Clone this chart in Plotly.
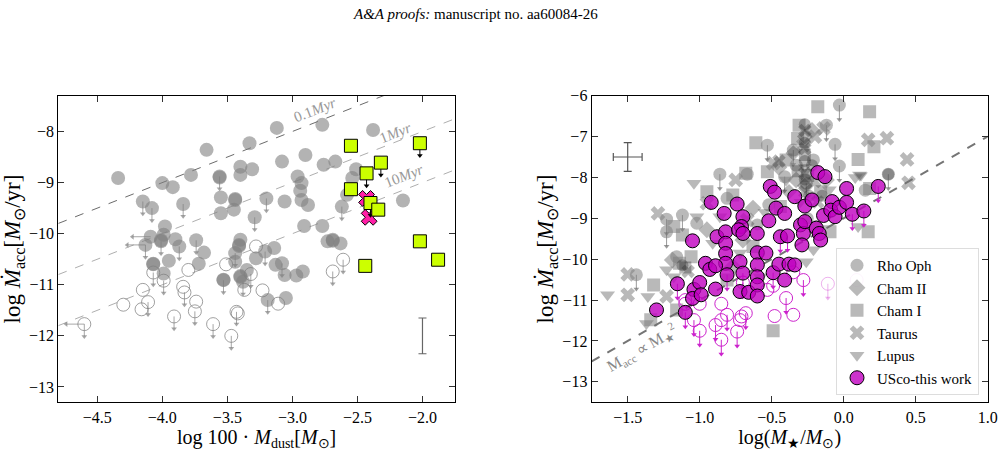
import plotly.graph_objects as go

# ---------------- LEFT PANEL DATA ----------------
# filled gray circles: x, y, upper-limit flag
lf_x = [-4.34,-3.66,-4.00,-3.92,-4.15,-4.08,-3.78,-3.84,-3.56,-3.56,-3.55,-3.55,-3.44,-3.44,-3.45,-3.40,-3.33,-3.31,-3.40,-3.29,
        -3.12,-3.08,-2.90,-2.96,-2.93,-2.94,-2.93,-2.88,-3.06,-3.20,-2.77,-2.76,-2.67,-2.51,-2.54,-2.58,-2.62,-2.38,-2.15,-2.91,
        -2.77,-2.73,-2.69,-2.69,-2.63,-3.98,-4.09,-4.01,-4.01,-3.99,-4.13,-3.90,-3.87,-3.74,-3.68,-3.95,-4.07,-4.07,-3.99,-3.72,
        -3.44,-3.44,-3.41,-3.41,-3.40,-3.53,-3.53,-3.40,-3.40,-3.35,-3.28,-3.21,-3.14,-3.13,-3.08,-3.06,-2.97,-2.92,-3.05,-3.19,-3.38]
lf_y = [-8.91,-8.36,-9.01,-9.09,-9.37,-9.50,-8.85,-9.42,-8.88,-8.90,-9.29,-9.60,-9.32,-9.34,-9.53,-8.69,-8.23,-8.74,-8.85,-9.68,
        -7.93,-8.59,-8.46,-8.88,-9.01,-9.16,-9.34,-9.44,-9.37,-9.31,-7.87,-8.65,-8.59,-8.74,-8.91,-9.24,-9.47,-7.97,-9.35,-9.85,
        -9.85,-10.15,-10.14,-10.12,-10.19,-9.86,-10.06,-10.15,-10.13,-10.02,-10.22,-10.11,-10.25,-10.13,-10.37,-10.53,-10.59,-10.60,-10.78,-10.59,
        -10.38,-10.55,-10.22,-10.24,-10.12,-10.91,-10.90,-10.83,-10.85,-10.71,-10.48,-10.35,-10.28,-10.61,-10.58,-10.81,-10.82,-10.74,-11.26,-11.30,-10.94]
lf_lim = [0,0,0,0,1,1,0,1,1,0,0,0,0,0,0,0,0,0,0,1,
          0,0,0,0,0,0,0,0,0,1,0,0,0,0,0,0,1,0,0,0,
          0,0,0,0,0,0,0,1,0,0,1,0,1,1,0,0,0,0,0,0,
          1,0,0,0,0,1,0,0,0,0,0,1,0,0,1,0,0,0,0,1,1]
# left-pointing limits (upper limits on dust mass)
ll_x = [-4.09,-4.13,-4.60]
ll_y = [-10.06,-10.22,-11.77]

# open gray circles (accretion upper limits)
lo_x = [-4.60,-4.30,-4.16,-4.15,-4.11,-4.07,-3.99,-3.84,-3.83,-3.80,-3.91,-3.74,-3.75,-3.61,-3.47,-3.51,-3.43,-3.42,-3.37,-3.32,-3.28,-3.23,-3.11,-2.69,-2.61]
lo_y = [-11.77,-11.39,-11.48,-11.10,-11.34,-10.76,-10.92,-11.04,-11.15,-10.71,-11.62,-11.33,-11.52,-11.77,-12.00,-10.60,-11.53,-11.56,-11.10,-10.79,-10.25,-11.11,-11.37,-10.74,-10.51]
lo_lim = [1,0,0,0,1,1,1,0,1,0,1,0,1,1,1,0,1,0,0,1,0,0,0,1,1]

# green squares (this work)
gs_x = [-2.55,-2.02,-2.32,-2.43,-2.55,-2.40,-2.34,-2.02,-1.88,-2.44]
gs_y = [-8.28,-8.23,-8.61,-8.82,-9.13,-9.40,-9.53,-10.15,-10.51,-10.63]
gs_lim = [0,1,1,1,0,1,0,0,0,0]

# magenta crosses
mx_x = [-2.43,-2.41]
mx_y = [-9.31,-9.68]

# isochrone labels (log t)
age_logt = [5, 6, 7]
age_labels = ["0.1<i>Myr</i>", "1<i>Myr</i>", "10<i>Myr</i>"]
age_lab_x = [-2.83, -2.21, -2.14]
age_lab_y = [-7.58, -8.03, -8.88]

# ---------------- RIGHT PANEL DATA ----------------
rho_x = [-0.03,-0.53,-0.06,-0.86,-0.67,-0.03,0.31,-1.12,-1.23,-1.23,-1.44,-0.21,-0.81,-0.52,-0.19,-0.33,-0.12,-0.35,0.15,-0.41,-1.02,-1.16,-0.26]
rho_y = [-6.23,-7.21,-7.19,-7.92,-7.92,-7.72,-7.92,-8.92,-9.02,-9.33,-10.38,-7.57,-8.51,-8.67,-9.20,-7.70,-6.72,-7.33,-8.31,-7.98,-9.12,-9.94,-8.14]
rho_lim = [1,1,1,1,0,1,1,1,1,1,1,0,0,0,0,0,1,1,0,1,0,0,1]

cham2_x = [-0.63,-1.19,-0.33,-0.12,-0.95,-0.70,-0.77,-0.22,-0.45]
cham2_y = [-8.75,-10.02,-8.06,-8.06,-9.28,-9.53,-10.18,-6.85,-7.75]

cham1_x = [-0.18,0.18,-0.31,-0.61,0.21,0.10,-0.40,-0.68,-0.95,-1.12,-1.32,-0.49,0.17,-1.16,-1.34,-0.53,-0.77,-0.095,-0.81,-1.18,-0.16,-0.44,-1.14,-1.06,0.18,-0.63,-0.32,-0.25]
cham1_y = [-6.27,-6.39,-6.72,-7.15,-7.25,-7.56,-7.57,-7.90,-8.35,-9.41,-10.63,-11.75,-9.33,-11.24,-11.48,-7.86,-8.43,-9.33,-10.51,-9.20,-8.35,-8.71,-10.10,-9.94,-8.27,-9.69,-7.05,-7.95]

tau_x = [-1.50,-1.50,-1.29,0.30,0.44,0.45,0.17,-0.14,-0.75,-0.95,-1.23,-0.28,-0.49,-0.67,-0.20]
tau_y = [-10.37,-10.87,-8.88,-7.04,-7.56,-8.13,-7.08,-6.80,-8.06,-8.63,-10.91,-7.21,-7.65,-9.04,-7.00]

lup_x = [-1.64,-1.04,-1.36,-1.02,0.10,-0.26,0.11,0.08,-1.23,-1.18,-0.72,-0.86,-0.21,-0.40,-1.37,-0.58,-0.91,-0.10]
lup_y = [-10.87,-8.14,-10.91,-8.96,-9.20,-10.06,-7.94,-8.00,-10.26,-10.43,-9.85,-8.96,-9.77,-8.06,-11.57,-10.43,-9.61,-8.30]

# dense dark overlapping group
dk_x = [-0.27,-0.27,-0.27,-0.27,-0.27,-0.27,-0.27,-0.27,-0.27,-0.27,-0.27,-0.27,-0.22,-0.32,-0.20,-0.35,-0.24,-0.30,-0.18,-0.25,
        -1.10,-1.08,-1.12,-0.15,0.12,0.31,-0.45,-0.55,-0.38,-0.60]
dk_y = [-6.70,-6.85,-7.00,-7.15,-7.30,-7.45,-7.60,-7.75,-7.90,-8.05,-8.20,-8.35,-7.70,-7.85,-8.10,-7.40,-8.45,-8.60,-8.60,-9.00,
        -10.20,-10.30,-10.15,-8.45,-7.95,-7.92,-7.60,-8.85,-8.35,-9.15]
dk_sym = ["circle","x","diamond","circle","x","square","circle","triangle-down","x","circle","diamond","x","circle","square","x","diamond","circle","triangle-down","x","circle",
          "square","x","circle","circle","triangle-down","circle","x","triangle-down","diamond","circle"]

# USco this work: filled magenta
us_x = [-1.30,-1.155,-1.10,-1.04,-1.05,-1.00,-0.99,-1.05,-0.96,-0.92,-0.93,-0.88,-0.89,-0.83,-0.82,-0.82,-0.82,-0.82,-0.81,-0.89,
        -0.74,-0.70,-0.71,-0.73,-0.70,-0.72,-0.70,-0.72,-0.66,-0.60,-0.60,-0.60,-0.60,-0.60,-0.60,-0.54,-0.52,-0.51,-0.48,-0.49,
        -0.47,-0.45,-0.44,-0.41,-0.41,-0.39,-0.38,-0.34,-0.34,-0.30,-0.27,-0.28,-0.27,-0.29,-0.22,-0.19,-0.17,-0.18,-0.13,-0.16,
        -0.14,-0.08,-0.09,-0.06,-0.03,0.02,0.02,0.06,0.14,0.24]
us_y = [-11.24,-10.60,-11.30,-10.74,-10.96,-10.57,-10.87,-9.55,-10.10,-8.61,-10.25,-9.45,-10.73,-8.88,-9.33,-9.61,-9.86,-10.10,-10.38,-10.16,
        -8.65,-8.96,-9.20,-9.28,-9.37,-10.06,-10.34,-10.79,-10.81,-9.37,-9.84,-10.14,-10.43,-10.63,-10.90,-9.85,-9.06,-8.22,-8.36,-10.33,
        -8.75,-10.12,-9.45,-8.88,-10.51,-9.43,-10.12,-10.14,-8.47,-9.16,-8.70,-9.37,-9.08,-9.65,-8.55,-9.24,-9.37,-7.88,-7.98,-9.53,
        -8.93,-8.59,-8.80,-8.96,-8.73,-8.27,-8.61,-8.90,-8.82,-8.22]
us_lim = [0,1,1,0,0,0,0,0,0,0,0,0,0,0,0,0,0,0,1,0,
          0,0,0,0,0,0,1,0,0,0,0,0,0,0,0,0,0,0,0,1,
          0,0,1,0,0,1,0,0,0,0,0,0,0,0,0,0,0,0,0,0,
          0,0,0,0,0,0,0,1,1,1]

# USco upper limits (open)
uo_x = [-1.10,-1.10,-1.04,-1.00,-1.00,-0.89,-0.85,-0.85,-0.85,-0.81,-0.74,-0.72,-0.71,-0.68,-0.70,-0.53,-0.49,-0.48,-0.40,-0.35,-0.28,-0.35]
uo_y = [-11.00,-11.09,-11.49,-11.09,-11.75,-11.61,-11.09,-11.49,-11.97,-11.36,-11.77,-11.49,-11.40,-11.32,-10.57,-10.75,-10.65,-11.39,-10.95,-11.36,-10.51,-10.32]
uo_lim = [0,0,1,0,1,1,0,0,1,1,1,0,0,1,1,0,0,0,1,0,1,0]
uf_x = [-0.11, 0.09]
uf_y = [-10.60, -10.51]
uf_lim = [1, 0]

legend_names = ["Rho Oph", "Cham II", "Cham I", "Taurus", "Lupus", "USco-this work"]

FONT = "Liberation Serif"
GRAY = "rgba(128,128,128,0.6)"


def arrows(xs, ys, flags, L, horizontal=False):
    lx, ly, hx, hy = [], [], [], []
    for x, y, f in zip(xs, ys, flags):
        if not f:
            continue
        if horizontal:
            lx += [x, x - L, None]; ly += [y, y, None]
            hx.append(x - L); hy.append(y)
        else:
            lx += [x, x, None]; ly += [y, y - L, None]
            hx.append(x); hy.append(y - L)
    return lx, ly, hx, hy


fig = go.Figure()


def add_arrows(xs, ys, flags, L, color, xa, ya, width=1, head=5, horizontal=False):
    lx, ly, hx, hy = arrows(xs, ys, flags, L, horizontal)
    fig.add_trace(go.Scatter(x=lx, y=ly, mode="lines", line=dict(color=color, width=width),
                             xaxis=xa, yaxis=ya, showlegend=False, hoverinfo="skip"))
    fig.add_trace(go.Scatter(x=hx, y=hy, mode="markers",
                             marker=dict(symbol="triangle-left" if horizontal else "triangle-down",
                                         size=head, color=color, line=dict(width=0)),
                             xaxis=xa, yaxis=ya, showlegend=False, hoverinfo="skip"))

# ---- left panel ----
xl = [-4.8, -1.75]
line_cols = ["rgba(90,90,90,0.9)", "rgba(165,165,165,0.9)", "rgba(165,165,165,0.9)"]
for lt, c in zip(age_logt, line_cols):
    fig.add_trace(go.Scatter(x=xl, y=[v - lt for v in xl], mode="lines",
                             line=dict(color=c, width=1, dash="dash"),
                             xaxis="x", yaxis="y", showlegend=False, hoverinfo="skip"))

add_arrows(lf_x, lf_y, lf_lim, 0.24, "rgba(128,128,128,0.7)", "x", "y")
add_arrows(ll_x, ll_y, [1, 1, 1], 0.14, "rgba(128,128,128,0.7)", "x", "y", horizontal=True)
add_arrows(lo_x, lo_y, lo_lim, 0.24, "rgba(128,128,128,0.7)", "x", "y")
fig.add_trace(go.Scatter(x=lf_x, y=lf_y, mode="markers",
                         marker=dict(symbol="circle", size=14, color=GRAY, line=dict(width=0)),
                         xaxis="x", yaxis="y", showlegend=False))
fig.add_trace(go.Scatter(x=lo_x, y=lo_y, mode="markers",
                         marker=dict(symbol="circle-open", size=13, color="rgba(128,128,128,0.75)", line=dict(width=1)),
                         xaxis="x", yaxis="y", showlegend=False))
# error bar
fig.add_trace(go.Scatter(x=[-2.0], y=[-12.0], mode="markers", marker=dict(size=1, color="rgba(0,0,0,0)"),
                         error_y=dict(type="constant", value=0.35, color="#666", thickness=1.2, width=4),
                         xaxis="x", yaxis="y", showlegend=False))
fig.add_trace(go.Scatter(x=mx_x, y=mx_y, mode="markers",
                         marker=dict(symbol="x", size=14, color="#ff1fa6", line=dict(width=1, color="black")),
                         xaxis="x", yaxis="y", showlegend=False))
add_arrows(gs_x, gs_y, gs_lim, 0.24, "black", "x", "y")
fig.add_trace(go.Scatter(x=gs_x, y=gs_y, mode="markers",
                         marker=dict(symbol="square", size=13, color="#ccff00", line=dict(width=1, color="black")),
                         xaxis="x", yaxis="y", showlegend=False))

# ---- right panel ----
add_arrows(rho_x, rho_y, rho_lim, 0.35, "rgba(110,110,110,0.7)", "x2", "y2")
cats = [(rho_x, rho_y, "circle", legend_names[0]),
        (cham2_x, cham2_y, "diamond", legend_names[1]),
        (cham1_x, cham1_y, "square", legend_names[2]),
        (tau_x, tau_y, "x", legend_names[3]),
        (lup_x, lup_y, "triangle-down", legend_names[4])]
for cx, cy, sym, nm in cats:
    fig.add_trace(go.Scatter(x=cx, y=cy, mode="markers", name=nm,
                             marker=dict(symbol=sym, size=13, color="rgba(128,128,128,0.55)", line=dict(width=0)),
                             xaxis="x2", yaxis="y2", showlegend=True))
fig.add_trace(go.Scatter(x=dk_x, y=dk_y, mode="markers",
                         marker=dict(symbol=dk_sym, size=12, color="rgba(40,40,40,0.33)", line=dict(width=0)),
                         xaxis="x2", yaxis="y2", showlegend=False))
# error cross
fig.add_trace(go.Scatter(x=[-1.5], y=[-7.5], mode="markers", marker=dict(size=1, color="rgba(0,0,0,0)"),
                         error_y=dict(type="constant", value=0.35, color="#555", thickness=1.2, width=4),
                         error_x=dict(type="constant", value=0.1, color="#555", thickness=1.2, width=4),
                         xaxis="x2", yaxis="y2", showlegend=False))
# Macc ~ M^2 line
xr = [-1.75, 1.0]
fig.add_trace(go.Scatter(x=xr, y=[2 * v - 9.0 for v in xr], mode="lines",
                         line=dict(color="rgba(110,110,110,0.95)", width=2, dash="dash"),
                         xaxis="x2", yaxis="y2", showlegend=False, hoverinfo="skip"))
add_arrows(uo_x, uo_y, uo_lim, 0.35, "#cc22cc", "x2", "y2")
add_arrows(uf_x, uf_y, uf_lim, 0.35, "rgba(204,34,204,0.35)", "x2", "y2")
fig.add_trace(go.Scatter(x=uo_x, y=uo_y, mode="markers",
                         marker=dict(symbol="circle-open", size=13, color="#cc22cc", line=dict(width=1)),
                         xaxis="x2", yaxis="y2", showlegend=False))
fig.add_trace(go.Scatter(x=uf_x, y=uf_y, mode="markers",
                         marker=dict(symbol="circle-open", size=13, color="rgba(204,34,204,0.35)", line=dict(width=1)),
                         xaxis="x2", yaxis="y2", showlegend=False))
add_arrows(us_x, us_y, us_lim, 0.35, "#cc22cc", "x2", "y2")
fig.add_trace(go.Scatter(x=us_x, y=us_y, mode="markers", name=legend_names[5],
                         marker=dict(symbol="circle", size=14, color="rgba(191,0,191,0.8)",
                                     line=dict(width=1, color="black")),
                         xaxis="x2", yaxis="y2", showlegend=True))

annotations = [dict(text="<i>A&A proofs:</i> manuscript no. aa60084-26", x=475 / 1004, y=1 - 14 / 469,
                    xref="paper", yref="paper", xanchor="center", yanchor="middle", showarrow=False,
                    font=dict(family=FONT, size=15, color="black"))]
for t, ax_, ay_ in zip(age_labels, age_lab_x, age_lab_y):
    annotations.append(dict(text=t, x=ax_, y=ay_, xref="x", yref="y", showarrow=False, textangle=-21.5,
                            font=dict(family=FONT, size=15, color="#999")))
annotations.append(dict(text="M<sub>acc</sub> ∝ M<sub>★</sub><sup>2</sup>", x=-1.40, y=-12.18, xref="x2", yref="y2",
                        showarrow=False, textangle=-29.6, font=dict(family=FONT, size=16, color="#888")))

axis_common = dict(showline=True, linecolor="black", linewidth=1.2, mirror="ticks", ticks="inside",
                   ticklen=6, tickwidth=1.2, tickcolor="#333", showgrid=False, zeroline=False,
                   automargin=False,
                   tickfont=dict(family=FONT, size=16, color="black"))

fig.update_layout(
    template="none",
    width=1004, height=469, margin=dict(l=0, r=0, t=0, b=0, autoexpand=False),
    paper_bgcolor="white", plot_bgcolor="white",
    font=dict(family=FONT, color="black"),
    showlegend=True,
    legend=dict(x=979 / 1004, y=1 - 395 / 469, xanchor="right", yanchor="bottom",
                bgcolor="rgba(255,255,255,0.85)", bordercolor="#ddd", borderwidth=1,
                font=dict(family=FONT, size=15, color="black"), itemsizing="trace",
                tracegroupgap=0),
    annotations=annotations,
    xaxis=dict(domain=[58.3 / 1004, 455 / 1004], range=[-4.8, -1.75], anchor="y",
               tickvals=[-4.5, -4.0, -3.5, -3.0, -2.5, -2.0], tickformat=".1f",
               title=dict(text="log 100 · <i>M</i><sub>dust</sub>[<i>M</i><sub>⊙</sub>]",
                          font=dict(family=FONT, size=20), standoff=4), **axis_common),
    yaxis=dict(domain=[1 - 402.3 / 469, 1 - 95.7 / 469], range=[-13.3, -7.3], anchor="x",
               tickvals=[-13, -12, -11, -10, -9, -8],
               title=dict(text="log <i>Ṁ</i><sub>acc</sub>[<i>M</i><sub>⊙</sub>/yr]",
                          font=dict(family=FONT, size=23), standoff=2), **axis_common),
    xaxis2=dict(domain=[591.7 / 1004, 987.7 / 1004], range=[-1.75, 1.0], anchor="y2",
                tickvals=[-1.5, -1.0, -0.5, 0.0, 0.5, 1.0], tickformat=".1f",
                title=dict(text="log(<i>M</i><sub>★</sub>/<i>M</i><sub>⊙</sub>)",
                           font=dict(family=FONT, size=20), standoff=4), **axis_common),
    yaxis2=dict(domain=[1 - 402.3 / 469, 1 - 95.7 / 469], range=[-13.5, -6.0], anchor="x2",
                tickvals=[-13, -12, -11, -10, -9, -8, -7, -6],
                title=dict(text="log <i>Ṁ</i><sub>acc</sub>[<i>M</i><sub>⊙</sub>/yr]",
                           font=dict(family=FONT, size=23), standoff=2), **axis_common),
)

fig.write_html("out.html")
